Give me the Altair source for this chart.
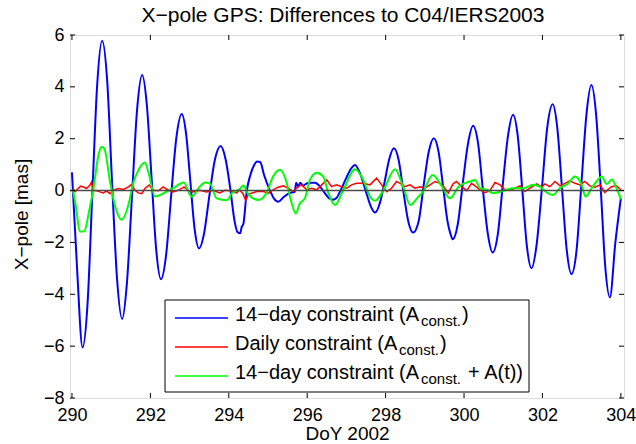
import altair as alt
import pandas as pd

# ---------------- data ----------------
x_ticks = [290, 292, 294, 296, 298, 300, 302, 304]
y_ticks = [-8, -6, -4, -2, 0, 2, 4, 6]

blue_day = [
    290.00, 290.13, 290.27, 290.40, 290.52, 290.64, 290.77, 290.90, 291.02, 291.15,
    291.28, 291.40, 291.53, 291.66, 291.79, 291.91, 292.03, 292.15, 292.27, 292.40,
    292.53, 292.66, 292.80, 292.91, 293.02, 293.13, 293.24, 293.37, 293.50, 293.64,
    293.79, 293.92, 294.04, 294.15, 294.22, 294.29, 294.33, 294.37, 294.46, 294.55,
    294.65, 294.72, 294.80, 294.90, 295.05, 295.15, 295.26, 295.40, 295.55, 295.68,
    295.72, 295.77, 295.82, 295.90, 296.00, 296.10, 296.20, 296.30, 296.45, 296.56,
    296.66, 296.74, 296.85, 297.00, 297.12, 297.22, 297.35, 297.50, 297.62, 297.73,
    297.85, 297.97, 298.09, 298.21, 298.33, 298.45, 298.58, 298.70, 298.84, 298.97,
    299.10, 299.23, 299.35, 299.47, 299.58, 299.65, 299.71, 299.84, 299.97, 300.10,
    300.23, 300.36, 300.48, 300.61, 300.73, 300.86, 300.99, 301.12, 301.25, 301.37,
    301.49, 301.60, 301.72, 301.85, 301.99, 302.12, 302.26, 302.38, 302.50, 302.62,
    302.74, 302.87, 303.00, 303.12, 303.25, 303.37, 303.49, 303.60, 303.72, 303.86,
    304.00,
]
blue_val = [
    0.70, -3.00, -6.05, -4.30, -0.10, 4.00, 5.78, 4.20, 0.40, -3.40,
    -4.95, -3.60, -0.25, 3.10, 4.46, 3.30, 0.50, -2.30, -3.42, -2.50,
    -0.20, 2.00, 2.95, 2.20, 0.35, -1.50, -2.23, -1.65, -0.25, 1.15,
    1.72, 1.20, 0.05, -1.20, -1.60, -1.65, -1.40, -1.30, 0.00, 0.60,
    1.00, 1.12, 1.10, 0.60, 0.00, -0.30, -0.43, -0.25, -0.10, -0.05,
    0.30, 0.15, 0.30, 0.20, 0.28, 0.30, 0.30, 0.20, -0.10, -0.30,
    -0.35, -0.30, 0.00, 0.50, 0.85, 0.99, 0.65, -0.05, -0.60, -0.85,
    -0.50, 0.30, 1.20, 1.63, 1.20, 0.00, -1.20, -1.62, -1.20, 0.20,
    1.50, 2.02, 1.50, 0.10, -1.20, -1.65, -1.88, -1.30, 0.30, 1.80,
    2.50, 1.80, 0.05, -1.70, -2.39, -1.70, 0.25, 2.10, 2.92, 2.10,
    -0.05, -2.10, -3.00, -2.10, 0.15, 2.40, 3.33, 2.40, 0.05, -2.30,
    -3.22, -2.30, 0.40, 2.90, 4.07, 2.90, 0.00, -2.90, -4.12, -2.00,
    -0.30,
]

red_day = [
    290.03, 290.08, 290.16, 290.22, 290.29, 290.37, 290.46, 290.50, 290.54, 290.63,
    290.71, 290.80, 290.88, 290.97, 291.05, 291.18, 291.31, 291.44, 291.52, 291.61,
    291.69, 291.78, 291.86, 291.97, 292.07, 292.20, 292.33, 292.46, 292.58, 292.71,
    292.86, 292.97, 293.09, 293.26, 293.43, 293.60, 293.77, 293.90, 294.03, 294.20,
    294.28, 294.36, 294.43, 294.50, 294.58, 294.71, 294.88, 295.01, 295.13, 295.26,
    295.39, 295.52, 295.64, 295.77, 295.86, 295.99, 296.11, 296.24, 296.37, 296.50,
    296.62, 296.75, 296.88, 297.01, 297.13, 297.26, 297.43, 297.60, 297.77, 297.90,
    298.03, 298.15, 298.28, 298.37, 298.49, 298.62, 298.75, 298.88, 299.00, 299.13,
    299.26, 299.39, 299.47, 299.60, 299.72, 299.81, 299.94, 300.07, 300.19, 300.28,
    300.41, 300.53, 300.66, 300.79, 300.92, 301.04, 301.17, 301.30, 301.43, 301.55,
    301.68, 301.85, 301.98, 302.06, 302.19, 302.32, 302.45, 302.57, 302.70, 302.83,
    302.96, 303.08, 303.21, 303.34, 303.47, 303.59, 303.68, 303.76, 303.89, 304.00,
]
red_val = [
    0.08, -0.05, 0.08, 0.17, 0.14, 0.08, 0.21, 0.33, 0.01, -0.01,
    -0.05, -0.09, -0.01, -0.12, 0.01, 0.08, 0.04, 0.14, 0.24, 0.01,
    -0.09, -0.12, 0.08, 0.21, 0.01, -0.01, 0.14, 0.01, -0.05, 0.01,
    0.14, -0.01, -0.05, 0.01, -0.05, 0.01, -0.09, 0.01, -0.01, -0.09,
    0.03, -0.12, -0.37, -0.15, -0.10, -0.04, -0.04, -0.10, 0.03, 0.13,
    0.18, 0.09, -0.04, 0.15, 0.22, 0.03, 0.09, 0.03, 0.22, 0.41,
    0.15, 0.22, 0.15, 0.09, 0.22, 0.28, 0.28, 0.22, 0.48, 0.22,
    -0.04, 0.09, 0.35, 0.28, 0.15, 0.22, 0.09, 0.15, 0.09, 0.22,
    0.35, 0.28, 0.18, -0.10, 0.26, 0.35, 0.15, 0.00, 0.28, 0.18,
    0.03, -0.08, 0.00, 0.31, 0.22, 0.03, 0.00, 0.09, 0.18, -0.04,
    0.09, 0.26, 0.13, 0.26, 0.15, 0.35, 0.18, 0.28, 0.38, 0.28,
    0.22, 0.35, 0.18, 0.13, 0.22, -0.08, 0.05, 0.15, 0.18, 0.03,
]

green_day = [
    290.02, 290.10, 290.20, 290.30, 290.46, 290.54, 290.68, 290.76, 290.83, 290.97,
    291.10, 291.27, 291.44, 291.56, 291.70, 291.86, 291.95, 292.12, 292.34, 292.58,
    292.85, 293.05, 293.27, 293.39, 293.52, 293.69, 293.95, 294.08, 294.28, 294.37,
    294.50, 294.75, 294.96, 295.13, 295.31, 295.48, 295.56, 295.71, 295.81, 295.94,
    296.07, 296.24, 296.41, 296.54, 296.71, 296.92, 297.22, 297.43, 297.60, 297.73,
    297.94, 298.24, 298.45, 298.63, 298.80, 298.97, 299.20, 299.42, 299.64, 299.86,
    300.15, 300.28, 300.41, 300.58, 300.75, 300.96, 301.25, 301.51, 301.76, 301.93,
    302.14, 302.27, 302.44, 302.66, 302.83, 303.00, 303.10, 303.25, 303.38, 303.51,
    303.64, 303.77, 303.89, 304.00,
]
green_val = [
    0.03, -0.60, -1.58, -1.58, -0.62, 0.00, 1.40, 1.69, 1.60, 0.35,
    -0.60, -1.13, -0.55, 0.27, 0.80, 1.08, 0.70, -0.23, -0.10, 0.09,
    0.31, -0.23, 0.17, 0.31, 0.27, -0.30, -0.37, -0.10, 0.06, 0.20,
    -0.15, -0.36, -0.10, 0.54, 0.80, 0.28, -0.23, -0.88, -0.50, -0.30,
    0.41, 0.69, 0.54, -0.10, -0.56, 0.02, 0.82, 0.41, -0.23, -0.39,
    0.00, 0.82, 0.13, -0.56, -0.30, 0.00, 0.60, 0.20, -0.30, 0.15,
    0.35, 0.41, 0.09, 0.03, -0.10, -0.03, 0.09, 0.09, 0.22, 0.15,
    -0.10, -0.17, 0.09, 0.28, 0.54, 0.22, -0.23, 0.09, 0.35, 0.54,
    0.25, 0.43, 0.09, -0.34,
]

zero_level = [0]

legend_main = ["14\u2212day constraint (A", "Daily constraint (A", "14\u2212day constraint (A"]
legend_sub = ["const.", "const.", "const."]
legend_tail = [")", ")", "+ A(t))"]
series_colors = ["#0000ff", "#ff0000", "#00ff00"]

title_text = ["X\u2212pole GPS: Differences to C04/IERS2003"]
x_title = "DoY 2002"
y_title = "X\u2212pole [mas]"

# ---------------- chart ----------------
FONT = "Liberation Sans"
W, H = 554, 363

xscale = alt.Scale(domain=[289.95, 304.08], nice=False, zero=False)
yscale = alt.Scale(domain=[-8, 6], nice=False, zero=False)

xaxis = alt.Axis(
    values=x_ticks, format="d", title=x_title, grid=False, ticks=False, tickSize=0,
    domain=False, labelFont=FONT, labelFontSize=18, labelColor="black",
    labelBaseline="alphabetic", labelPadding=22, labelFlush=False,
    titleFont=FONT, titleFontSize=19, titleFontWeight="normal", titleColor="black",
    titleBaseline="alphabetic", titleY=41, titleX=W / 2, titleAlign="center",
)
yaxis = alt.Axis(
    values=y_ticks, format="d", title=y_title, grid=False, ticks=False, tickSize=0,
    domain=False, labelFont=FONT, labelFontSize=18, labelColor="black",
    labelBaseline="middle", labelPadding=6, labelFlush=False,
    titleFont=FONT, titleFontSize=19, titleFontWeight="normal", titleColor="black",
    titleBaseline="alphabetic", titleX=-43, titleY=179, titleAngle=270, titleAlign="center",
)


def series_df(days, vals):
    return pd.DataFrame({"day": days, "val": vals})


def line_layer(df, color, width, interp):
    return alt.Chart(df).mark_line(
        color=color, strokeWidth=width, interpolate=interp, clip=True
    ).encode(
        x=alt.X("day:Q", scale=xscale, axis=xaxis),
        y=alt.Y("val:Q", scale=yscale, axis=yaxis),
    )


blue = line_layer(series_df(blue_day, blue_val), series_colors[0], 2, "monotone")
red = line_layer(series_df(red_day, red_val), series_colors[1], 1.5, "linear")
green = line_layer(series_df(green_day, green_val), series_colors[2], 2, "monotone")

zero = alt.Chart(pd.DataFrame({"z": zero_level})).mark_rule(
    color="#4a4a4a", strokeWidth=1.6
).encode(
    y=alt.Y("z:Q", scale=yscale, axis=yaxis),
    x=alt.value(0), x2=alt.value(W),
)

# inward tick marks on all four sides
xt = pd.DataFrame({"day": x_ticks})
yt = pd.DataFrame({"val": y_ticks})
tick_bottom = alt.Chart(xt).mark_rule(color="black", strokeWidth=1).encode(
    x=alt.X("day:Q", scale=xscale, axis=xaxis), y=alt.value(H), y2=alt.value(H - 5))
tick_top = alt.Chart(xt).mark_rule(color="black", strokeWidth=1).encode(
    x=alt.X("day:Q", scale=xscale, axis=xaxis), y=alt.value(0), y2=alt.value(5))
tick_left = alt.Chart(yt).mark_rule(color="black", strokeWidth=1).encode(
    y=alt.Y("val:Q", scale=yscale, axis=yaxis), x=alt.value(0), x2=alt.value(5))
tick_right = alt.Chart(yt).mark_rule(color="black", strokeWidth=1).encode(
    y=alt.Y("val:Q", scale=yscale, axis=yaxis), x=alt.value(W), x2=alt.value(W - 5))

# title as a text mark above the plot frame
title = alt.Chart(pd.DataFrame({"t": title_text})).mark_text(
    align="center", baseline="alphabetic", font=FONT, fontSize=21, color="black"
).encode(text="t:N", x=alt.value(W / 2 - 4), y=alt.value(-13))

# legend box
one = pd.DataFrame({"k": [0]})
box = alt.Chart(one).mark_rect(fill="white", stroke="black", strokeWidth=1).encode(
    x=alt.value(95), x2=alt.value(459), y=alt.value(265), y2=alt.value(357))

legend_layers = [box]
row_line_y = [283, 312, 341]
row_base_y = [286, 315, 344]
sub_x = [351, 329, 351]
tail_x = [392, 370, 398]
for i in range(3):
    d = pd.DataFrame({"main": [legend_main[i]], "sub": [legend_sub[i]], "tail": [legend_tail[i]]})
    legend_layers.append(alt.Chart(d).mark_rule(color=series_colors[i], strokeWidth=1.5).encode(
        x=alt.value(105), x2=alt.value(158), y=alt.value(row_line_y[i])))
    legend_layers.append(alt.Chart(d).mark_text(
        align="left", baseline="alphabetic", font=FONT, fontSize=20, color="black"
    ).encode(text="main:N", x=alt.value(165), y=alt.value(row_base_y[i])))
    legend_layers.append(alt.Chart(d).mark_text(
        align="left", baseline="alphabetic", font=FONT, fontSize=15, color="black"
    ).encode(text="sub:N", x=alt.value(sub_x[i]), y=alt.value(row_base_y[i] + 5)))
    legend_layers.append(alt.Chart(d).mark_text(
        align="left", baseline="alphabetic", font=FONT, fontSize=20, color="black"
    ).encode(text="tail:N", x=alt.value(tail_x[i]), y=alt.value(row_base_y[i])))

chart = alt.layer(
    blue, red, green, zero, tick_bottom, tick_top, tick_left, tick_right, title, *legend_layers
).properties(
    width=W, height=H,
    autosize=alt.AutoSizeParams(type="none"),
    padding={"left": 70, "top": 35, "right": 12, "bottom": 46},
).configure_view(
    stroke="black", strokeWidth=1
).configure(background="white")

chart.save("out.html", embed_options={"renderer": "svg", "actions": False})
